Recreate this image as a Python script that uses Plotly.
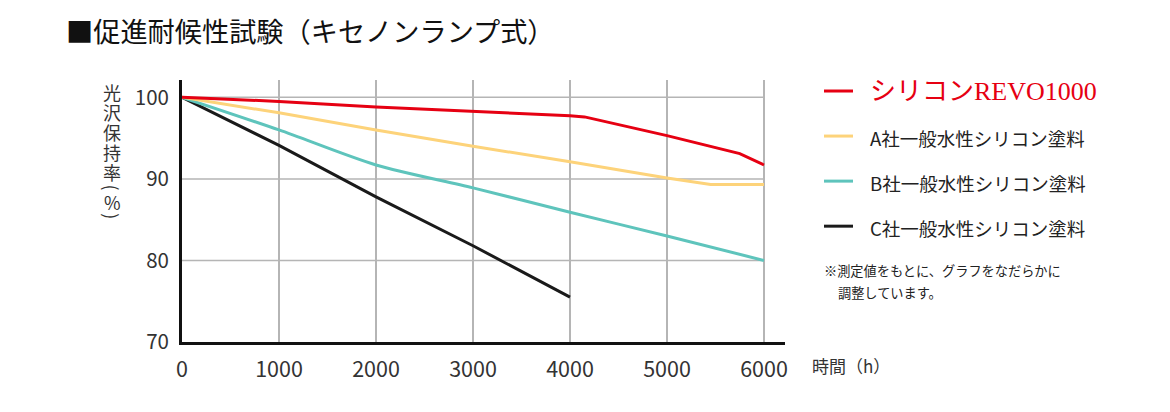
import plotly.graph_objects as go

# data
hours_revo = [0, 1000, 2000, 3000, 4000, 4150, 5000, 5750, 6000]
gloss_revo = [100, 99.5, 98.8, 98.3, 97.75, 97.6, 95.3, 93.1, 91.7]

hours_a = [0, 1000, 2000, 3000, 4000, 5000, 5450, 6000]
gloss_a = [100, 98.1, 96.0, 94.0, 92.1, 90.1, 89.3, 89.3]

hours_b = [0, 1000, 2000, 3000, 4000, 5000, 6000]
gloss_b = [100, 96.0, 91.7, 88.9, 85.9, 83.0, 80.0]

hours_c = [0, 1000, 2000, 3000, 4000]
gloss_c = [100, 94.1, 87.8, 81.8, 75.5]

names = ["シリコンREVO1000", "A社一般水性シリコン塗料", "B社一般水性シリコン塗料", "C社一般水性シリコン塗料"]
colors = ["#e60012", "#fdd37a", "#5ec4bc", "#1a1a1a"]

x_ticks = [0, 1000, 2000, 3000, 4000, 5000, 6000]
y_ticks = [70, 80, 90, 100]
y_grid = [80, 90, 100]

title = "■促進耐候性試験（キセノンランプ式）"
y_title = ["光", "沢", "保", "持", "率", "(", "%", ")"]
x_title = "時間（h）"
note1 = "※測定値をもとに、グラフをなだらかに"
note2 = "調整しています。"

FONT = "Noto Sans CJK JP"
OFF = 8  # page margin of the html body
W, H = 1170 - OFF, 412 - OFF
# plot box in screen pixels
X0, X1, Y0, Y1 = 182, 785, 80, 341.7
L, T = X0 - OFF, Y0 - OFF
R, B = W - (X1 - OFF), H - (Y1 - OFF)

def px(x):
    return (x - X0) / (X1 - X0)

def py(y):
    return 1 - (y - Y0) / (Y1 - Y0)

fig = go.Figure()

series = [(hours_c, gloss_c), (hours_b, gloss_b), (hours_a, gloss_a), (hours_revo, gloss_revo)]
order = [3, 2, 1, 0]
for (hx, gy), i in zip(series, order):
    shape = "spline" if i == 2 else "linear"
    fig.add_trace(go.Scatter(x=hx, y=gy, mode="lines", name=names[i],
                             line=dict(color=colors[i], width=3, shape=shape, smoothing=0.8),
                             hoverinfo="skip", showlegend=False))

# horizontal grid lines stop at 6000
for g in y_grid:
    fig.add_shape(type="line", x0=0, x1=6000, y0=g, y1=g, xref="x", yref="y",
                  line=dict(color="#b5b5b5", width=1.5), layer="below")

# legend drawn by hand
leg_y = [91, 136, 181, 226]
for i, yy in enumerate(leg_y):
    fig.add_shape(type="line", xref="paper", yref="paper",
                  x0=px(824), x1=px(853), y0=py(yy), y1=py(yy),
                  line=dict(color=colors[i], width=3))
    if i == 0:
        f = dict(family="Liberation Serif, " + FONT, size=26, color=colors[0])
    else:
        f = dict(family=FONT, size=18.5, color="#222222")
    fig.add_annotation(text=names[i], xref="paper", yref="paper",
                       x=px(868), y=py(yy + (0 if i == 0 else 2)),
                       xanchor="left", yanchor="middle", showarrow=False, font=f)

fig.add_annotation(text=note1, xref="paper", yref="paper", x=px(822), y=py(270),
                   xanchor="left", yanchor="middle", showarrow=False,
                   font=dict(family=FONT, size=13.2, color="#222222"))
fig.add_annotation(text=note2, xref="paper", yref="paper", x=px(836), y=py(292),
                   xanchor="left", yanchor="middle", showarrow=False,
                   font=dict(family=FONT, size=13.2, color="#222222"))

fig.add_annotation(text=title, xref="paper", yref="paper", x=px(64), y=py(30),
                   xanchor="left", yanchor="middle", showarrow=False,
                   font=dict(family=FONT, size=27.2, color="#111111"))

fig.add_annotation(text=x_title, xref="paper", yref="paper", x=px(810), y=py(365),
                   xanchor="left", yanchor="middle", showarrow=False,
                   font=dict(family=FONT, size=17, color="#333333"))

# vertical axis title, one character per row
yc = [91.5, 111.5, 131.5, 151.5, 171.5, 187.5, 201.5, 216]
for ch, yy in zip(y_title, yc):
    rot = 90 if ch in "()" else 0
    fig.add_annotation(text=ch, xref="paper", yref="paper", x=px(112), y=py(yy),
                       xanchor="center", yanchor="middle", showarrow=False,
                       textangle=rot, font=dict(family=FONT, size=18, color="#333333"))

fig.update_layout(
    width=W, height=H,
    margin=dict(l=L, r=R, t=T, b=B, pad=0),
    paper_bgcolor="white", plot_bgcolor="white",
    showlegend=False,
    xaxis=dict(range=[0, 6000 * (X1 - X0) / (764 - X0)], tickvals=x_ticks,
               ticktext=[str(v) for v in x_ticks],
               showgrid=True, gridcolor="#b5b5b5", gridwidth=1.5, zeroline=False,
               showline=True, linecolor="#111111", linewidth=3,
               ticks="", ticklabelstandoff=6,
               tickfont=dict(family=FONT, size=21.5, color="#333333")),
    yaxis=dict(range=[70, 70 + 30 * (Y1 - Y0) / (Y1 - 97.3)], tickvals=y_ticks,
               ticktext=[str(v) for v in y_ticks],
               showgrid=False, zeroline=False,
               showline=True, linecolor="#111111", linewidth=3,
               ticks="", ticklabelstandoff=6,
               tickfont=dict(family=FONT, size=20.5, color="#333333")),
)

fig.write_html("out.html")
